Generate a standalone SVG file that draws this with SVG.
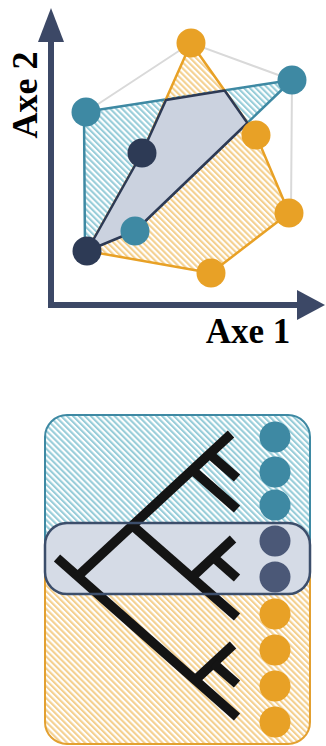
<svg xmlns="http://www.w3.org/2000/svg" width="326" height="746" viewBox="0 0 326 746">
<defs>
<pattern id="hT" width="4.2" height="4.2" patternUnits="userSpaceOnUse" patternTransform="rotate(-45)"><rect width="2.1" height="4.2" fill="#98cdd9"/></pattern>
<pattern id="hO" width="4.2" height="4.2" patternUnits="userSpaceOnUse" patternTransform="rotate(-45)"><rect width="2.1" height="4.2" fill="#f4d08f"/></pattern>
</defs>
<style>
.teal{fill:#3e89a3}
.orng{fill:#e8a126}
.navy{fill:#2d3a55}
.navy2{fill:#4b5877}
.tree line{stroke:#141414;stroke-width:9.5}
.lbl{font-family:"Liberation Serif",serif;font-weight:bold;fill:#000}
.ax{stroke:#3c4866;stroke-width:6;fill:none}
</style>
<rect width="326" height="746" fill="#fff"/>

<g id="axes">
<line class="ax" x1="51" y1="38" x2="51" y2="308"/>
<line class="ax" x1="48" y1="305" x2="300" y2="305"/>
<polygon points="51,8 38,42 64,42" fill="#3c4866"/>
<polygon points="325,305 297,290 297,320" fill="#3c4866"/>
<text class="lbl" font-size="36" text-anchor="middle" transform="translate(37,95) rotate(-90)">Axe 2</text>
<text class="lbl" font-size="35" text-anchor="middle" x="248" y="343">Axe 1</text>
</g>

<g id="connectors">
<polyline points="86,112 191,43 292,80 291,213" fill="none" stroke="#d9d9d9" stroke-width="2"/>
<polygon points="84,112 292,80 135,231 85,251" fill="url(#hT)" stroke="#3e89a3" stroke-width="2.5" stroke-linejoin="round"/>
<polygon points="191,43 256,135 289,213 211,273 87,251 142,153" fill="url(#hO)" stroke="#e8a126" stroke-width="2.5" stroke-linejoin="round"/>
<polygon points="166,100 224.6,90.5 247.4,123 135,231 87,251 142,153" fill="#cbd2df" stroke="#2d3a55" stroke-width="2.5" stroke-linejoin="round"/>
</g>

<g id="scatter-nodes">
<g id="p1"><circle class="orng" cx="191" cy="43" r="14.5"/></g>
<g id="p2"><circle class="teal" cx="292" cy="80" r="14.5"/></g>
<g id="p3"><circle class="teal" cx="86" cy="112" r="14.5"/></g>
<g id="p4"><circle class="navy" cx="142" cy="153" r="14.5"/></g>
<g id="p5"><circle class="orng" cx="256" cy="135" r="14.5"/></g>
<g id="p6"><circle class="orng" cx="289" cy="213" r="14.5"/></g>
<g id="p7"><circle class="teal" cx="135" cy="231" r="14.5"/></g>
<g id="p8"><circle class="navy" cx="87" cy="251" r="14.5"/></g>
<g id="p9"><circle class="orng" cx="211" cy="273" r="14.5"/></g>
</g>

<g id="groups">
<path d="M45,560 V437 A22,22 0 0 1 67,415 H288 A22,22 0 0 1 310,437 V560" fill="url(#hT)" stroke="#3e89a3" stroke-width="2"/>
<path d="M45,560 V722 A22,22 0 0 0 67,744 H288 A22,22 0 0 0 310,722 V560" fill="url(#hO)" stroke="#e3a030" stroke-width="2"/>
<rect x="45" y="523" width="265" height="71" rx="22" fill="#d5dbe6"/>
</g>

<g id="tree" class="tree">
<line x1="57" y1="558" x2="237" y2="717"/>
<line x1="78" y1="576" x2="231" y2="434"/>
<line x1="209.5" y1="454" x2="237" y2="478"/>
<line x1="192.4" y1="470" x2="237" y2="509"/>
<line x1="132.5" y1="525.6" x2="237" y2="617"/>
<line x1="191.7" y1="577.4" x2="233" y2="539"/>
<line x1="213.4" y1="557.3" x2="237" y2="578"/>
<line x1="195.3" y1="680.1" x2="233" y2="645"/>
<line x1="213.4" y1="663.4" x2="237" y2="684"/>
</g>

<rect x="45" y="523" width="265" height="71" rx="22" fill="none" stroke="#3c4e6b" stroke-width="2.5"/>

<g id="leaf-nodes">
<g id="l1"><circle class="teal" cx="275" cy="437" r="15.5"/></g>
<g id="l2"><circle class="teal" cx="275" cy="472" r="15.5"/></g>
<g id="l3"><circle class="teal" cx="275" cy="505" r="15.5"/></g>
<g id="l4"><circle class="navy2" cx="275" cy="541" r="15.5"/></g>
<g id="l5"><circle class="navy2" cx="275" cy="577" r="15.5"/></g>
<g id="l6"><circle class="orng" cx="275" cy="614" r="15.5"/></g>
<g id="l7"><circle class="orng" cx="275" cy="650" r="15.5"/></g>
<g id="l8"><circle class="orng" cx="275" cy="686" r="15.5"/></g>
<g id="l9"><circle class="orng" cx="275" cy="722" r="15.5"/></g>
</g>
</svg>
